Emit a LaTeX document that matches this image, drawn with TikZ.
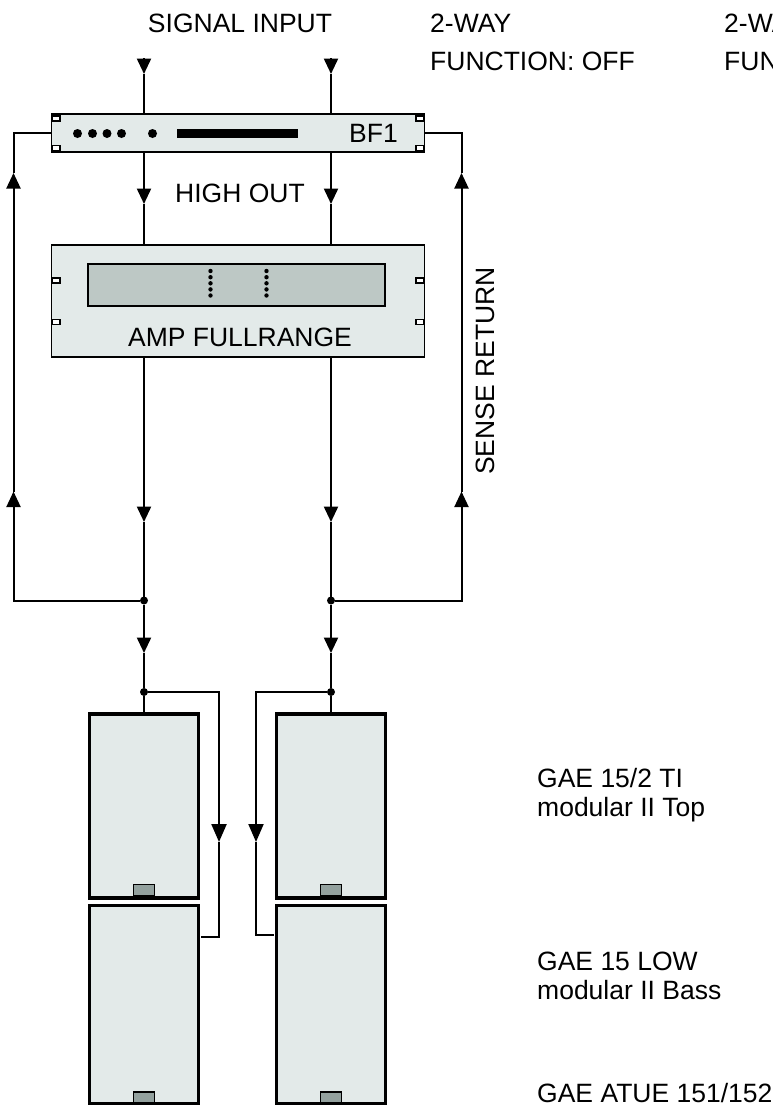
\documentclass[tikz,border=0pt]{standalone}
\usepackage{fontspec}
\setmainfont{Liberation Sans}
\usetikzlibrary{arrows.meta}
\definecolor{rackfill}{HTML}{E3EAE9}
\definecolor{displayfill}{HTML}{BDC8C5}
\definecolor{handlefill}{HTML}{93A19E}
\tikzset{
    rack/.style={draw, fill=rackfill, line width=1.9pt, inner sep=0pt, outer sep=0pt, minimum width=373pt},
    ear/.style={draw, fill=white, line width=1.5pt, inner sep=0pt, outer sep=0pt, minimum width=7.5pt, minimum height=5pt},
    cabinet/.style={draw, fill=rackfill, line width=3.8pt, inner sep=0pt, outer sep=0pt, minimum width=109pt},
    handle/.style={draw, fill=handlefill, line width=1.6pt, inner sep=0pt, outer sep=0pt, minimum width=21pt, minimum height=11pt},
    dot/.style={circle, fill, inner sep=0pt, outer sep=0pt, minimum size=#1},
    label/.style={font=\fontsize{26.5}{30}\selectfont, inner sep=0pt},
    sigline/.style={line width=2.3pt},
    senseline/.style={line width=2pt},
    biglink/.style={>={Triangle[length=18pt, width=15pt]}}
}
\begin{document}
\begin{tikzpicture}[>={Triangle[length=15.5pt, width=14pt]}, x=1pt, y=-1pt, node distance=168pt]
    \useasboundingbox (0,0) rectangle (773,1106);

    % rack units
    \node[rack, minimum height=38pt] (bf1) at (238,133) {};
    \node[rack, minimum height=112pt, below of=bf1] (amp) {};
    \node[draw, fill=displayfill, line width=1.9pt, inner sep=0pt, minimum width=297pt, minimum height=42pt] (display) at (236.5,285) {};
    \node[fill, inner sep=0pt, minimum width=121pt, minimum height=9pt] (bar) at (237.5,133.5) {};
    \foreach \n/\x in {a/77.5,b/92.5,c/107,d/121.5,e/152.5}
        \node[dot=9pt] (led\n) at (\x,133.5) {};
    \foreach \n/\y in {a/271,b/277.2,c/283.3,d/289.4,e/295.5} {
        \node[dot=4.4pt] (vuL\n) at (210.5,\y) {};
        \node[dot=4.4pt] (vuR\n) at (266.5,\y) {};
    }
    \foreach \n/\y in {a/118.5,b/148,c/280.7,d/322} {
        \node[ear] (earL\n) at (56,\y) {};
        \node[ear] (earR\n) at (419.5,\y) {};
    }

    % cabinets
    \node[cabinet, minimum height=184pt] (topL) at (144,806) {};
    \node[cabinet, minimum height=184pt, right of=topL, node distance=187pt] (topR) {};
    \node[cabinet, minimum height=198pt] (lowL) at (144,1004.5) {};
    \node[cabinet, minimum height=198pt, right of=lowL, node distance=187pt] (lowR) {};
    \node[handle] (hndTL) at (144,890) {};
    \node[handle] (hndTR) at (331,890) {};
    \node[handle] (hndBL) at (144,1097.5) {};
    \node[handle] (hndBR) at (331,1097.5) {};

    % junctions
    \node[dot=8pt] (jL) at (144,600.5) {};
    \node[dot=8pt] (jR) at (331,600.5) {};
    \node[dot=8pt] (kL) at (144,692) {};
    \node[dot=8pt] (kR) at (331,692) {};

    % free ends and arrow points
    \coordinate (inL) at (144,58);
    \coordinate (inR) at (331,58);
    \coordinate (inLtip) at (144,74);
    \coordinate (inRtip) at (331,74);
    \coordinate (highL) at (144,204);
    \coordinate (highR) at (331,204);
    \coordinate (outL) at (144,522);
    \coordinate (outR) at (331,522);
    \coordinate (feedL) at (144,653);
    \coordinate (feedR) at (331,653);
    \coordinate (linkL) at (219,842);
    \coordinate (linkR) at (256,842);
    \coordinate (retL) at (201,937);
    \coordinate (retR) at (274,934.5);
    \coordinate (upLa) at (13.5,491.5);
    \coordinate (upLb) at (13.5,173);
    \coordinate (upRa) at (461.5,491.5);
    \coordinate (upRb) at (461.5,173);

    % signal path
    \draw[sigline, ->] (inL) -- (inLtip);
    \draw[sigline, ->] (inR) -- (inRtip);
    \draw[sigline] (inLtip) -- (inLtip |- bf1.north);
    \draw[sigline] (inRtip) -- (inRtip |- bf1.north);
    \draw[sigline, ->] (highL |- bf1.south) -- (highL);
    \draw[sigline, ->] (highR |- bf1.south) -- (highR);
    \draw[sigline] (highL) -- (highL |- amp.north);
    \draw[sigline] (highR) -- (highR |- amp.north);
    \draw[sigline, ->] (outL |- amp.south) -- (outL);
    \draw[sigline, ->] (outR |- amp.south) -- (outR);
    \draw[sigline] (outL) -- (jL);
    \draw[sigline] (outR) -- (jR);
    \draw[sigline, ->] (jL) -- (feedL);
    \draw[sigline, ->] (jR) -- (feedR);
    \draw[sigline] (feedL) -- (kL);
    \draw[sigline] (feedR) -- (kR);
    \draw[sigline] (kL) -- (topL);
    \draw[sigline] (kR) -- (topR);
    \draw[sigline, biglink, ->] (kL) -| (linkL);
    \draw[senseline, biglink, ->] (kR) -| (linkR);
    \draw[sigline] (linkL) |- (retL);
    \draw[senseline] (linkR) |- (retR);

    % sense return
    \draw[senseline, ->] (jL) -| (upLa);
    \draw[senseline, ->] (jR) -| (upRa);
    \draw[senseline, ->] (upLa) -- (upLb);
    \draw[senseline, ->] (upRa) -- (upRb);
    \draw[senseline] (upLb) |- (bf1.west);
    \draw[senseline] (upRb) |- (bf1.east);

    % labels
    \node[label, anchor=base] (signal) at (240,32) {SIGNAL INPUT};
    \node[label, anchor=base west] (wayA) at (430,32) {2-WAY};
    \node[label, anchor=base west] (funcA) at (430,70) {FUNCTION: OFF};
    \node[label, anchor=base west] (wayB) at (724,32) {2-WA};
    \node[label, anchor=base west] (funcB) at (724,70) {FUN};
    \node[label, anchor=base east] (bf1text) at (398,142.5) {BF1};
    \node[label, anchor=base] (highout) at (240,202) {HIGH OUT};
    \node[label, anchor=base] (amptext) at (240,346) {AMP FULLRANGE};
    \node[label, rotate=90, anchor=base] (sense) at (494,371) {SENSE RETURN};
    \node[label, anchor=base west] (topA) at (537,787) {GAE 15/2 TI};
    \node[label, anchor=base west] (topB) at (537,816.5) {modular II Top};
    \node[label, anchor=base west] (lowA) at (537,970) {GAE 15 LOW};
    \node[label, anchor=base west] (lowB) at (537,999) {modular II Bass};
    \node[label, anchor=base west] (atue) at (537,1102) {GAE ATUE 151/152};
\end{tikzpicture}
\end{document}
